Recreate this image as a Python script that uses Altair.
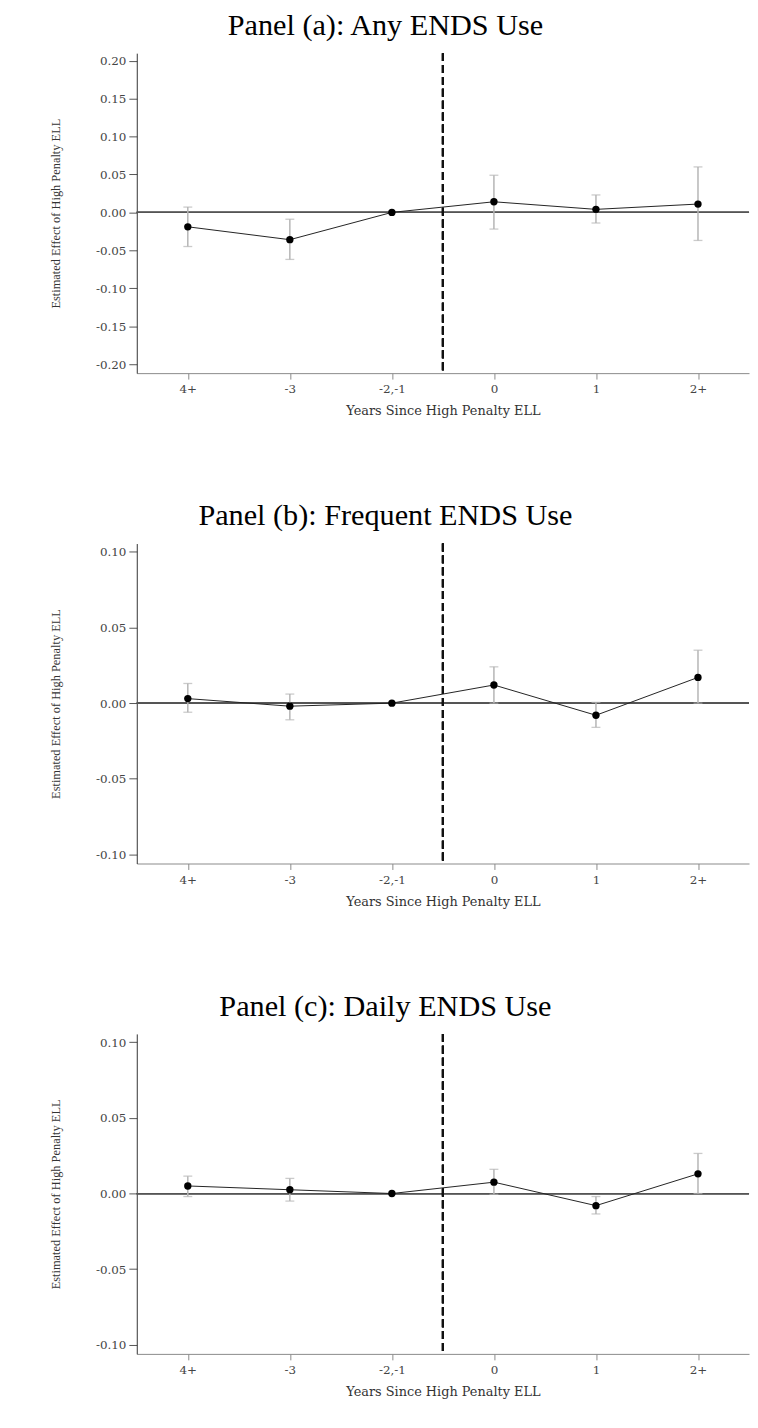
import altair as alt
import pandas as pd

xlabels = ["4+", "-3", "-2,-1", "0", "1", "2+"]
xpos = [0, 1, 2, 3, 4, 5]

a_est = [-0.019, -0.036, 0.0, 0.014, 0.004, 0.011]
a_lo = [-0.045, -0.062, 0.0, -0.022, -0.014, -0.037]
a_hi = [0.007, -0.009, 0.0, 0.049, 0.023, 0.060]

b_est = [0.003, -0.002, 0.0, 0.012, -0.008, 0.017]
b_lo = [-0.006, -0.011, 0.0, 0.0, -0.016, 0.0]
b_hi = [0.013, 0.006, 0.0, 0.024, 0.0005, 0.035]

c_est = [0.005, 0.0025, 0.0, 0.0075, -0.008, 0.013]
c_lo = [-0.002, -0.005, 0.0, -0.0005, -0.0135, 0.0]
c_hi = [0.0115, 0.010, 0.0, 0.016, -0.002, 0.0265]

titles = ["Panel (a): Any ENDS Use", "Panel (b): Frequent ENDS Use", "Panel (c): Daily ENDS Use"]
yvals_a = [0.20, 0.15, 0.10, 0.05, 0.0, -0.05, -0.10, -0.15, -0.20]
yvals_bc = [0.10, 0.05, 0.0, -0.05, -0.10]
event_line = 2.5
xtitle = "Years Since High Penalty ELL"
ytitle = "Estimated Effect of High Penalty ELL"

label_arr = "[" + ",".join("'" + s + "'" for s in xlabels) + "]"

W, H = 618, 323


def panel(title, est, lo, hi, yvals, ydom):
    df = pd.DataFrame({"x": xpos, "est": est, "lo": lo, "hi": hi})
    xs = alt.Scale(domain=[-0.5, 5.5], nice=False, zero=False)
    ys = alt.Scale(domain=ydom, nice=False, zero=False)
    xaxis = alt.Axis(values=xpos, labelExpr=label_arr + "[datum.value]", title=xtitle,
                     grid=False, tickSize=6, labelPadding=5, domainColor="#8a8a8a",
                     tickColor="#8a8a8a", labelFont="DejaVu Serif", labelFontSize=12,
                     labelColor="#444444", titleFont="DejaVu Serif", titleFontSize=13,
                     titleFontWeight="normal", titleColor="#333333", titlePadding=10)
    yaxis = alt.Axis(values=yvals,
                     labelExpr="(datum.value < -0.0001 ? '-' : '') + format(abs(datum.value), '.2f')",
                     title=ytitle, grid=False, tickSize=8, labelPadding=3,
                     domainColor="#333333", tickColor="#555555", labelFont="DejaVu Serif",
                     labelFontSize=12, labelColor="#444444", titleFont="Liberation Serif",
                     titleFontSize=12.5, titleFontWeight="normal", titleColor="#333333",
                     titlePadding=33)
    base = alt.Chart(df)
    zero = base.mark_rule(color="#555555", strokeWidth=1.3).encode(
        y=alt.Y(datum=0, scale=ys, axis=yaxis))
    vline = base.mark_rule(color="#111111", strokeWidth=2, strokeDash=[8, 4]).encode(
        x=alt.X(datum=event_line, scale=xs, axis=xaxis))
    bars = base.transform_filter("datum.hi != datum.lo").mark_rule(
        color="#b5b5b5", strokeWidth=1.5).encode(
        x=alt.X("x:Q", scale=xs, axis=xaxis), y=alt.Y("lo:Q", scale=ys, axis=yaxis), y2="hi:Q")
    cap_lo = base.transform_filter("datum.hi != datum.lo").mark_tick(
        color="#b5b5b5", thickness=1.3, size=9, orient="horizontal").encode(
        x=alt.X("x:Q", scale=xs, axis=xaxis), y=alt.Y("lo:Q", scale=ys, axis=yaxis))
    cap_hi = base.transform_filter("datum.hi != datum.lo").mark_tick(
        color="#b5b5b5", thickness=1.3, size=9, orient="horizontal").encode(
        x=alt.X("x:Q", scale=xs, axis=xaxis), y=alt.Y("hi:Q", scale=ys, axis=yaxis))
    line = base.mark_line(color="#222222", strokeWidth=1).encode(
        x=alt.X("x:Q", scale=xs, axis=xaxis), y=alt.Y("est:Q", scale=ys, axis=yaxis))
    pts = base.mark_circle(color="#000000", size=55, opacity=1).encode(
        x=alt.X("x:Q", scale=xs, axis=xaxis), y=alt.Y("est:Q", scale=ys, axis=yaxis))
    return alt.layer(zero, vline, bars, cap_lo, cap_hi, line, pts).properties(
        width=W, height=H,
        title=alt.TitleParams(text=title, font="Liberation Serif", fontSize=30.5,
                              fontWeight="normal", color="#000000", anchor="middle",
                              frame="group", dx=-58, offset=11))


pa = panel(titles[0], a_est, a_lo, a_hi, yvals_a, [-0.212, 0.21])
pb = panel(titles[1], b_est, b_lo, b_hi, yvals_bc, [-0.106, 0.1055])
pc = panel(titles[2], c_est, c_lo, c_hi, yvals_bc, [-0.106, 0.1055])

chart = alt.vconcat(pa, pb, pc, spacing=84).properties(
    padding={"top": -4, "left": 42, "right": 0, "bottom": 0},
    background="white"
).configure_view(stroke=None)

chart.save("out.html", embed_options={"renderer": "svg", "actions": False})
